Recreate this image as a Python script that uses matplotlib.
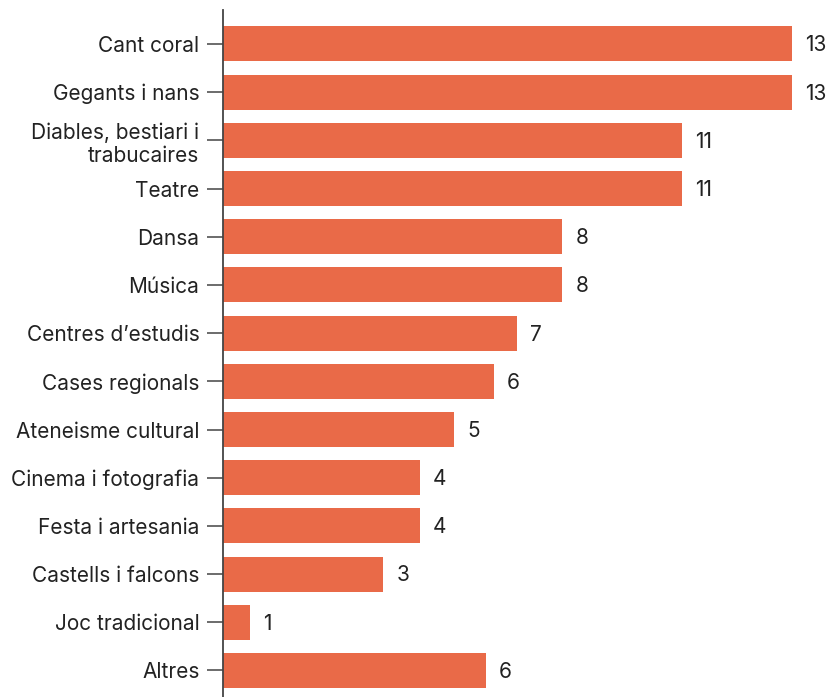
import matplotlib
matplotlib.use('Agg')
import matplotlib.pyplot as plt

plt.rcParams['font.family'] = ['Inter', 'DejaVu Sans']

# categories, top to bottom
categories = ['Cant coral', 'Gegants i nans', 'Diables, bestiari i\ntrabucaires', 'Teatre',
              'Dansa', 'Música', 'Centres d\u2019estudis', 'Cases regionals',
              'Ateneisme cultural', 'Cinema i fotografia', 'Festa i artesania',
              'Castells i falcons', 'Joc tradicional', 'Altres']
# bar lengths
bar_lengths = [13, 13, 10.49, 10.49, 7.75, 7.75, 6.72, 6.19, 5.28, 4.50, 4.50, 3.66, 0.62, 6.01]
# labels shown next to each bar
value_labels = ['13', '13', '11', '11', '8', '8', '7', '6', '5', '4', '4', '3', '1', '6']

bar_color = '#e96a48'
axis_color = '#444444'

fig = plt.figure(figsize=(8.3, 6.97), dpi=100)
ax = fig.add_axes([223 / 830, 0, 1 - 223 / 830, 1 - 10 / 697])

ypos = list(range(len(categories)))
ax.barh(ypos, bar_lengths, height=0.726, color=bar_color)

for y, length, lab in zip(ypos, bar_lengths, value_labels):
    ax.annotate(lab, xy=(length, y), xytext=(9.5, -1), textcoords='offset points',
                va='center', ha='left', fontsize=15, color='#222222')

ax.set_yticks(ypos)
ax.set_yticklabels(categories, fontsize=15, color='#222222', linespacing=1.22)
ax.set_ylim(len(categories) - 1 + 0.55, -0.705)
ax.set_xlim(0, 13.87)

for side in ['top', 'right', 'bottom']:
    ax.spines[side].set_visible(False)
ax.spines['left'].set_color(axis_color)
ax.spines['left'].set_linewidth(1.3)
ax.tick_params(axis='y', length=11.5, width=1.1, color=axis_color, pad=5.5)
ax.set_xticks([])

fig.savefig('out.png', dpi=100)
